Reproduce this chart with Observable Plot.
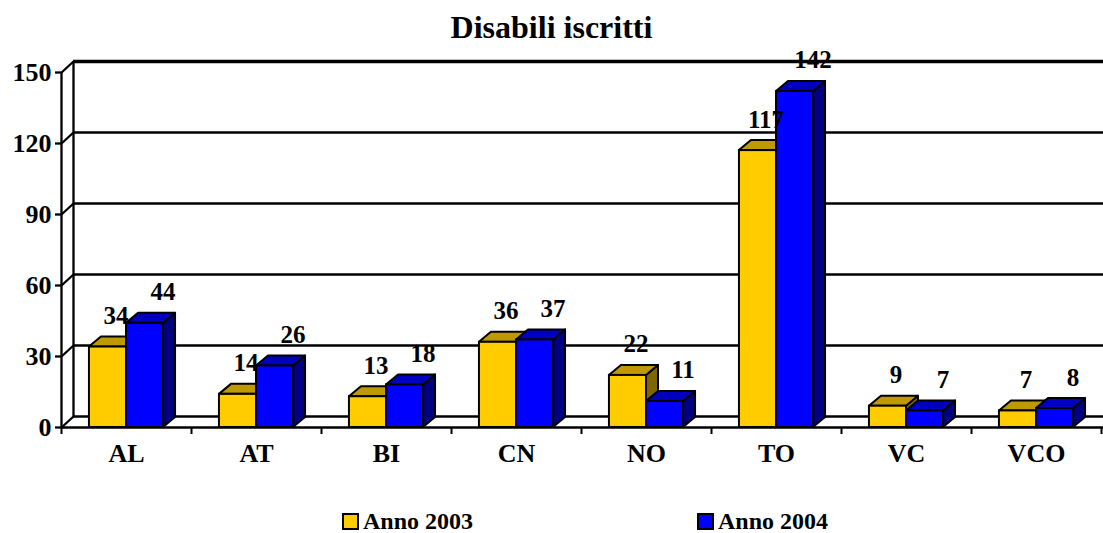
<!DOCTYPE html>
<html>
<head>
<meta charset="utf-8">
<script src="https://cdn.jsdelivr.net/npm/d3@7"></script>
<script src="https://cdn.jsdelivr.net/npm/@observablehq/plot@0.6"></script>
<style>
  html, body { margin: 0; padding: 0; background: #fff; }
  #wrap { position: relative; width: 1103px; height: 533px; overflow: hidden; font-family: "Liberation Serif", "Times New Roman", serif; font-weight: bold; color: #000; }
  #title { position: absolute; top: 8px; left: 0; width: 1103px; text-align: center; font-size: 32px; line-height: 38px; }
  #chart { position: absolute; top: 50px; left: 0; }
  #chart svg, #chart svg text { font-family: "Liberation Serif", "Times New Roman", serif !important; font-weight: bold; }
  #legend { position: absolute; top: 505px; left: 0; width: 1103px; height: 32px; font-size: 24px; line-height: 32px; }
  .item { position: absolute; top: 0; display: flex; align-items: center; height: 32px; }
  .sw { width: 13px; height: 13px; border: 2px solid #000; margin-right: 4px; }
</style>
</head>
<body>
<div id="wrap">
  <div id="title">Disabili iscritti</div>
  <div id="chart"></div>
  <div id="legend"></div>
</div>
<script>
// ---- data ----
const categories = ["AL", "AT", "BI", "CN", "NO", "TO", "VC", "VCO"];
const anno2003 = [34, 14, 13, 36, 22, 117, 9, 7];
const anno2004 = [44, 26, 18, 37, 11, 142, 7, 8];
const seriesNames = ["Anno 2003", "Anno 2004"];
const yTicks = [0, 30, 60, 90, 120, 150];

// ---- styling / geometry constants ----
const FONT = "'Liberation Serif', 'Times New Roman', serif";
const W = 1103, H = 430;
const mLeft = 61, mRight = 2, mTop = 22, mBottom = 53;
const pxPerX = (W - mLeft - mRight) / categories.length;   // px per category unit
const pxPerY = (H - mTop - mBottom) / 150;                  // px per value unit
const WDX = 12 / pxPerX, WDY = 11 / pxPerY;                 // wall depth
const BDX = 12 / pxPerX, BDY = 10 / pxPerY;                 // bar depth

const series = [
  {name: seriesNames[0], values: anno2003, x0: 0.215, x1: 0.5,
   front: "#FFCC00", top: "#BF9900", side: "#806600", shift: 8 / pxPerX},
  {name: seriesNames[1], values: anno2004, x0: 0.5, x1: 0.785,
   front: "#0000FF", top: "#0000BF", side: "#000080", shift: 18 / pxPerX}
];

const barMarks = [];
const labelData = [];
for (const s of series) {
  const bars = categories.map((c, i) => ({cat: c, i, v: s.values[i]}));
  const side = bars.flatMap(b => [
    {id: b.cat, x: b.i + s.x1, y1: 0, y2: b.v},
    {id: b.cat, x: b.i + s.x1 + BDX, y1: BDY, y2: b.v + BDY}
  ]);
  const top = bars.flatMap(b => [
    {id: b.cat, x: b.i + s.x0, y1: b.v, y2: b.v},
    {id: b.cat, x: b.i + s.x0 + BDX, y1: b.v, y2: b.v + BDY},
    {id: b.cat, x: b.i + s.x1, y1: b.v, y2: b.v + BDY},
    {id: b.cat, x: b.i + s.x1 + BDX, y1: b.v + BDY, y2: b.v + BDY}
  ]);
  barMarks.push(
    Plot.areaY(side, {x: "x", y1: "y1", y2: "y2", z: "id", fill: s.side, stroke: "#000", strokeWidth: 2, strokeLinejoin: "round"}),
    Plot.areaY(top, {x: "x", y1: "y1", y2: "y2", z: "id", fill: s.top, stroke: "#000", strokeWidth: 2, strokeLinejoin: "round"}),
    Plot.rectY(bars, {x1: b => b.i + s.x0, x2: b => b.i + s.x1, y1: 0, y2: "v", fill: s.front, stroke: "#000", strokeWidth: 2, inset: 0})
  );
  for (const b of bars) labelData.push({x: b.i + (s.x0 + s.x1) / 2 + s.shift, v: b.v});
}

const chart = Plot.plot({
  width: W, height: H,
  marginLeft: mLeft, marginRight: mRight, marginTop: mTop, marginBottom: mBottom,
  style: {fontFamily: FONT, fontWeight: "bold", fontSize: "26px", background: "white", overflow: "visible"},
  x: {type: "linear", domain: [0, categories.length]},
  y: {domain: [0, 150]},
  marks: [
    // back wall gridlines
    Plot.ruleY(yTicks.slice(0, -1), {y: d => d + WDY, x1: WDX, x2: categories.length + WDX, stroke: "#000", strokeWidth: 2.3}),
    Plot.ruleY(yTicks.slice(-1), {y: d => d + WDY, x1: WDX, x2: categories.length + WDX, stroke: "#000", strokeWidth: 3.3}),
    // side wall
    Plot.ruleX([WDX], {y1: WDY, y2: 150 + WDY, stroke: "#000", strokeWidth: 2.3}),
    Plot.link(yTicks, {x1: 0, y1: d => d, x2: WDX, y2: d => d + WDY, stroke: "#000", strokeWidth: 2.3}),
    Plot.ruleX([0], {y1: 0, y2: 150, stroke: "#000", strokeWidth: 2.3}),
    // floor front edge
    Plot.ruleY([0], {x1: 0, x2: categories.length + WDX, stroke: "#000", strokeWidth: 2.3}),
    // axes
    Plot.axisY(yTicks, {label: null, tickSize: 6, tickPadding: 4, strokeWidth: 2.3, fontFamily: FONT, fontSize: 26, fontWeight: "bold", fill: "#000", stroke: "#000"}),
    Plot.axisX(d3.range(categories.length + 1), {label: null, tickSize: 7, tickFormat: () => "", strokeWidth: 2, stroke: "#000"}),
    Plot.axisX(categories.map((c, i) => i + 0.5), {label: null, tickSize: 0, tickPadding: 16, tickFormat: d => categories[Math.floor(d)], fontFamily: FONT, fontSize: 26, fontWeight: "bold", fill: "#000"}),
    // bars
    ...barMarks,
    // value labels
    Plot.text(labelData, {x: "x", y: "v", text: d => String(d.v), dy: -31, fontFamily: FONT, fontSize: 25, fontWeight: "bold", fill: "#000"})
  ]
});
document.getElementById("chart").appendChild(chart);

// legend
const legend = document.getElementById("legend");
const legendX = [342, 697];
series.forEach((s, k) => {
  const it = document.createElement("div");
  it.className = "item";
  it.style.left = legendX[k] + "px";
  const sw = document.createElement("span");
  sw.className = "sw";
  sw.style.background = s.front;
  const t = document.createElement("span");
  t.textContent = s.name;
  it.appendChild(sw); it.appendChild(t);
  legend.appendChild(it);
});
</script>
</body>
</html>
